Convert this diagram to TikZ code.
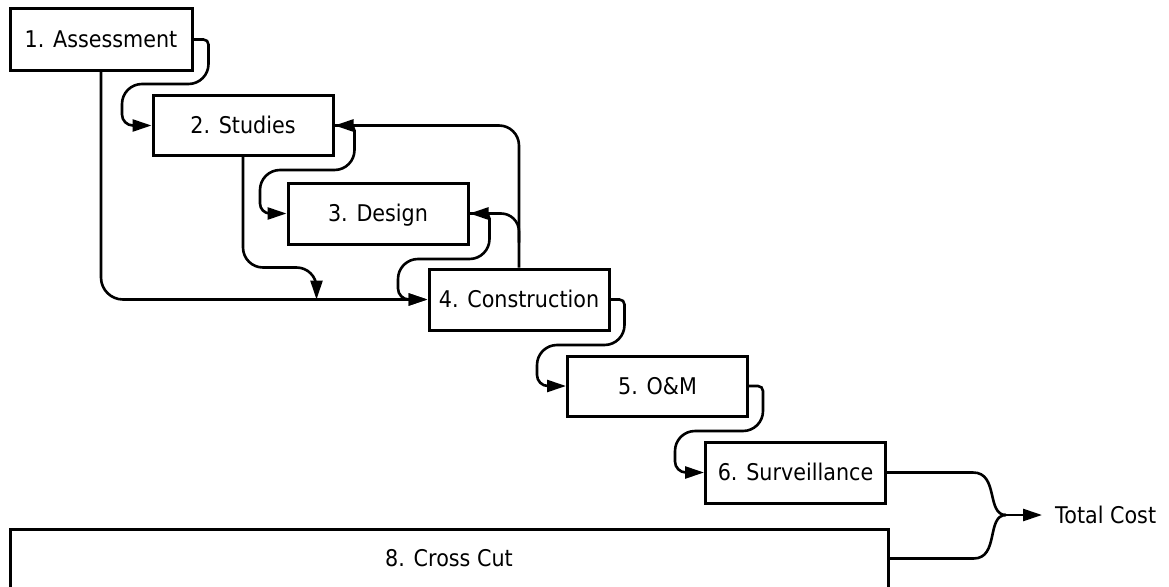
\documentclass[tikz,border=0pt]{standalone}
\usepackage{fontspec}
\setmainfont{DejaVu Sans}[FakeStretch=0.9]
\usetikzlibrary{arrows.meta,calc}
\begin{document}
\begin{tikzpicture}[x=1pt,y=-1pt,
  lbl/.style={text height=16.8pt, text depth=0pt, font=\fontsize{23}{28}\selectfont},
  box/.style={draw, line width=3pt, minimum width=180pt, minimum height=60pt,
    inner sep=0pt, lbl},
  conn/.style={line width=2.6pt, -{Triangle[length=19pt,width=12pt]}},
  plain/.style={line width=2.6pt}]
\useasboundingbox (0,0) rectangle (1169,586);
\node[box, minimum width=182pt, minimum height=61pt] (a) at (101,39.5) {1. Assessment};
\node[box] (b) at (243,125.5) {2. Studies};
\node[box, minimum height=61pt] (c) at (378,213.5) {3. Design};
\node[box, minimum height=61pt] (d) at (519,299.5) {4. Construction};
\node[box] (e) at (657.5,386) {5. O\&M};
\node[box, minimum height=61pt] (f) at (795.5,472.5) {6. Surveillance};
\node[box, minimum width=878pt, minimum height=59pt] (g) at (449,558.5) {8. Cross Cut};
\node[anchor=west, inner xsep=13pt, inner ysep=0pt, lbl] (tc) at (1042,515) {Total Cost};
\coordinate (jn) at ($(d.west)+(-111,0)$);
\coordinate (j) at (1006,515);
% sequential S-connectors
\draw[conn] (a.east) [rounded corners=5pt] -- ++(15,0) [rounded corners=20pt] |- (122,84) [rounded corners=11pt] |- (b.west);
\draw[conn] (b.east) [rounded corners=5pt] -- ++(20,0) [rounded corners=20pt] |- (260,170) [rounded corners=10pt] |- (c.west);
\draw[conn] (c.east) [rounded corners=5pt] -- ++(20,0) [rounded corners=20pt] |- (398,259) [rounded corners=11pt] |- (d.west);
\draw[conn] (d.east) [rounded corners=5pt] -- ++(14,0) [rounded corners=20pt] |- (537,345) [rounded corners=11pt] |- (e.west);
\draw[conn] (e.east) [rounded corners=5pt] -- ++(14,0) [rounded corners=20pt] |- (675,431) [rounded corners=11pt] |- (f.west);
% long connectors
\draw[conn] (a.south) [rounded corners=22pt] |- (d.west);
\draw[conn] (b.south) [rounded corners=20pt] |- ($(jn)+(0,-32)$) [rounded corners=8pt] -- (jn);
\draw[conn] (d.north) [rounded corners=20pt] |- (b.east);
\draw[conn] ($(d.north)+(0,-25)$) [rounded corners=18pt] |- (c.east);
% merge to total cost
\draw[plain] (f.east) -- ++(86,0) .. controls ++(26,0) and ($(j)+(-20,0)$) .. (j);
\draw[plain] (g.east) -- ++(84,0) .. controls ++(26,0) and ($(j)+(-20,0)$) .. (j);
\draw[conn] (j) -- (tc.west);
\end{tikzpicture}
\end{document}
